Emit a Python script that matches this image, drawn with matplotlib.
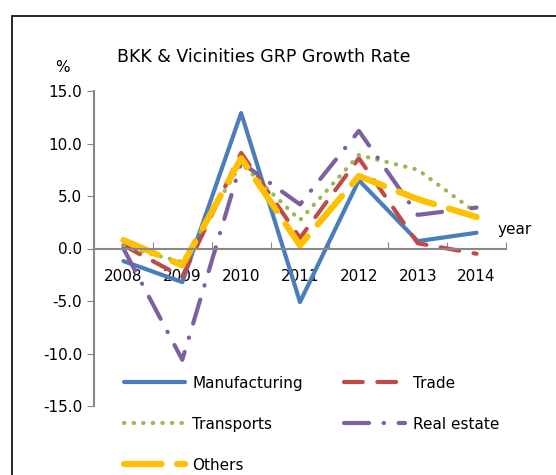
import matplotlib
import matplotlib.pyplot as plt
import matplotlib.patches as patches
import numpy as np

matplotlib.rcParams.update({'font.size': 11, 'font.family': 'DejaVu Sans'})

years = ['2008', '2009', '2010', '2011', '2012', '2013', '2014']
manufacturing = [-1.2, -3.2, 12.9, -5.1, 6.5, 0.7, 1.5]
trade = [0.3, -2.7, 9.1, 1.0, 8.6, 0.5, -0.5]
transports = [0.2, -1.3, 8.1, 2.7, 8.9, 7.5, 3.4]
real_estate = [0.0, -10.6, 8.2, 4.2, 11.2, 3.2, 3.9]
others = [0.8, -1.6, 8.6, 0.3, 6.9, 4.7, 3.0]

x = np.arange(len(years))

f = plt.figure(figsize=(5.56, 4.75), dpi=100)
ax = f.add_axes([94/556, 1 - 406/475, 412/556, 315/475])

l1, = ax.plot(x, manufacturing, color='#4a7ebb', lw=3.0, solid_capstyle='round')
l2, = ax.plot(x, trade, color='#be4b48', lw=3.0, dashes=(4.5, 3.5), dash_capstyle='round')
l3, = ax.plot(x, transports, color='#98b954', lw=3.0, linestyle=(0, (0.1, 2.2)),
              dash_capstyle='round')
l4, = ax.plot(x, real_estate, color='#7d60a0', lw=3.0,
              linestyle=(0, (6, 3.5, 0.1, 3.5)), dash_capstyle='round')
l5, = ax.plot(x, others, color='#ffc000', lw=4.5, dashes=(6, 2.5), dash_capstyle='round')

ax.set_xlim(-0.5, 6.5)
ax.set_ylim(-15, 15)
ax.set_yticks([-15, -10, -5, 0, 5, 10, 15])
ax.set_yticklabels(['%.1f' % v for v in [-15, -10, -5, 0, 5, 10, 15]])

ax.set_xticks(np.arange(-0.5, 7, 1.0))
ax.set_xticklabels([])
ax.set_xticks(x, minor=True)
ax.set_xticklabels(years, minor=True)
ax.tick_params(axis='x', which='major', direction='in', length=5, color='#888888')
ax.tick_params(axis='x', which='minor', length=0, pad=15)
ax.tick_params(axis='y', length=5, color='#888888')

for s in ['top', 'right']:
    ax.spines[s].set_visible(False)
ax.spines['left'].set_color('#888888')
ax.spines['left'].set_linewidth(1.5)
ax.spines['bottom'].set_position(('data', 0))
ax.spines['bottom'].set_color('#888888')
ax.spines['bottom'].set_linewidth(1.5)

f.text(264/556, 1 - 57/475, 'BKK & Vicinities GRP Growth Rate', ha='center', va='center',
       fontsize=12.5)
f.text(62/556, 1 - 68/475, '%', ha='center', va='center')
f.text(497/556, 1 - 229/475, 'year', ha='left', va='center')

leg = f.legend([l1, l3, l5, l2, l4],
               ['Manufacturing', 'Transports', 'Others', 'Trade', 'Real estate'],
               ncol=2, loc='upper left', bbox_to_anchor=(110/556, 1 - 362/475),
               frameon=False, handlelength=4.0, labelspacing=1.7,
               columnspacing=2.7, handletextpad=0.5)

f.patches.append(patches.Rectangle((12/556, -0.1), 1.2, 1 - 16/475 + 0.1,
                                   transform=f.transFigure, fill=False,
                                   edgecolor='black', lw=1.2))

f.savefig('out.png', dpi=100)
